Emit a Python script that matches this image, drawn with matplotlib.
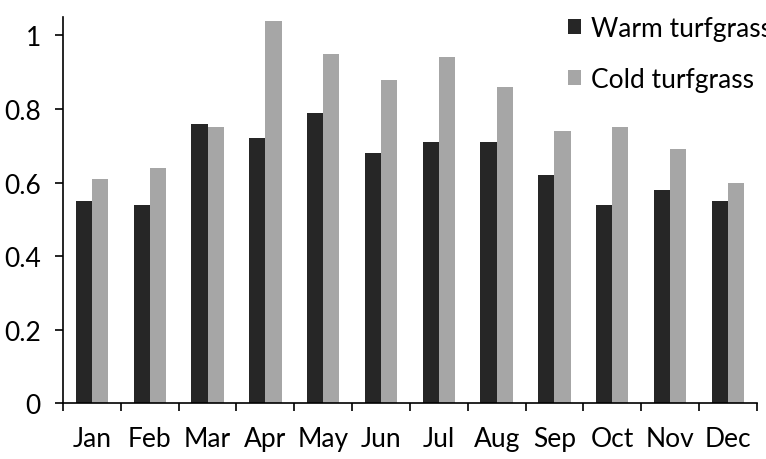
import matplotlib
matplotlib.use("Agg")
import matplotlib.pyplot as plt
import numpy as np

months = ["Jan", "Feb", "Mar", "Apr", "May", "Jun", "Jul", "Aug", "Sep", "Oct", "Nov", "Dec"]
warm = [0.55, 0.54, 0.76, 0.72, 0.79, 0.68, 0.71, 0.71, 0.62, 0.54, 0.58, 0.55]
cold = [0.61, 0.64, 0.75, 1.04, 0.95, 0.88, 0.94, 0.86, 0.74, 0.75, 0.69, 0.60]
yticks = [0, 0.2, 0.4, 0.6, 0.8, 1]
yticklabels = ["0", "0.2", "0.4", "0.6", "0.8", "1"]

plt.rcParams['font.family'] = ['Lato', 'DejaVu Sans']
FS = 19

fig = plt.figure(figsize=(7.66, 4.6), dpi=100)
ax = fig.add_axes([0.0822, 0.1207, 0.9058, 0.8403])

x = np.arange(len(months))
w = 0.28
ax.bar(x - w / 2, warm, width=w, color="#262626", label="Warm turfgrass")
ax.bar(x + w / 2, cold, width=w, color="#a6a6a6", label="Cold turfgrass")

ax.set_xlim(-0.5, len(months) - 0.5)
ax.set_ylim(0, 1.05)
ax.set_yticks(yticks)
ax.set_yticklabels(yticklabels, fontsize=FS)
ax.set_xticks(x)
ax.set_xticklabels(months, fontsize=FS)
ax.tick_params(axis='x', length=0, pad=16)
ax.set_xticks(np.arange(-0.5, len(months)), minor=True)
ax.tick_params(axis='x', which='minor', length=6, width=1.2, direction='out')
ax.tick_params(axis='y', length=6, width=1.2, direction='out', pad=10)

for s in ["top", "right"]:
    ax.spines[s].set_visible(False)
for s in ["left", "bottom"]:
    ax.spines[s].set_linewidth(1.2)

leg = ax.legend(loc="upper left", bbox_to_anchor=(0.712, 1.03), frameon=False,
                fontsize=FS, handlelength=0.5, handleheight=0.5, handletextpad=0.4,
                labelspacing=1.0, borderaxespad=0)

fig.savefig("out.png", dpi=100)
